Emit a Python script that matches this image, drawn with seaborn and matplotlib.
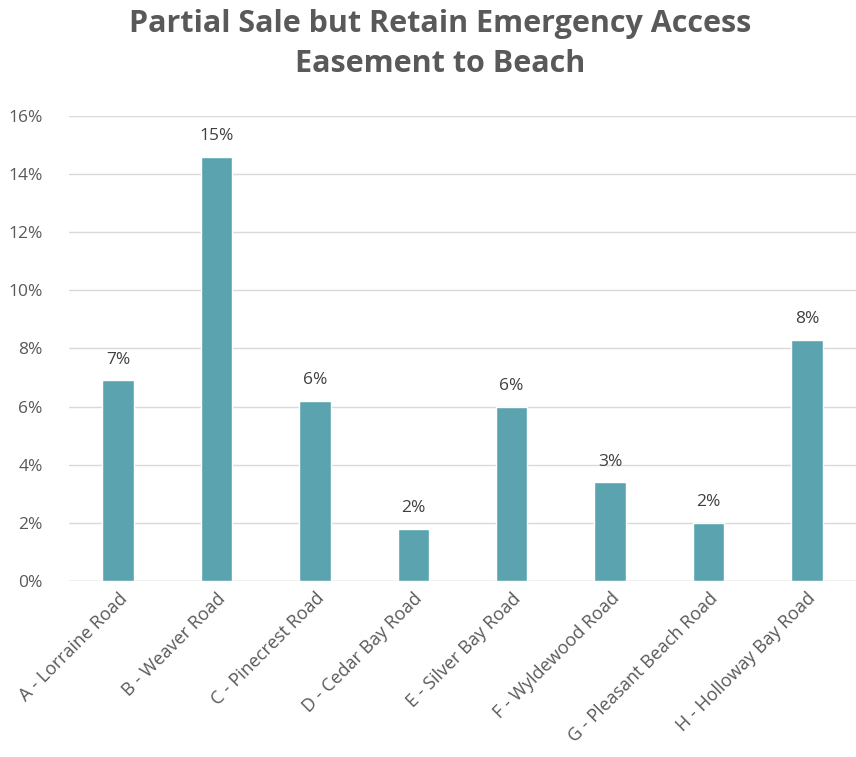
import matplotlib
matplotlib.use("Agg")
import matplotlib.pyplot as plt
import seaborn as sns
import pandas as pd
from matplotlib.ticker import FuncFormatter

categories = ["A - Lorraine Road", "B - Weaver Road", "C - Pinecrest Road", "D - Cedar Bay Road",
              "E - Silver Bay Road", "F - Wyldewood Road", "G - Pleasant Beach Road", "H - Holloway Bay Road"]
values = [6.9, 14.6, 6.2, 1.8, 6.0, 3.4, 2.0, 8.3]
labels = ["7%", "15%", "6%", "2%", "6%", "3%", "2%", "8%"]
yticks = [0, 2, 4, 6, 8, 10, 12, 14, 16]

sns.set_theme(style="white")
plt.rcParams["font.family"] = ["Open Sans", "DejaVu Sans"]

df = pd.DataFrame({"cat": categories, "val": values})
fig = plt.figure(figsize=(8.56, 7.57), dpi=100)
ax = fig.add_axes([69/856, 1 - 581/757, 1 - 69/856, (581 - 116)/757])
sns.barplot(data=df, x="cat", y="val", color="#5BA3AF", width=0.32, saturation=1, ax=ax, zorder=3)

ax.set_ylim(0, 16)
ax.set_xlim(-0.5, 7.5)
ax.set_yticks(yticks)
ax.yaxis.set_major_formatter(FuncFormatter(lambda v, p: f"{int(v)}%"))
ax.grid(axis="y", color="#D9D9D9", linewidth=1, zorder=0)
for s in ax.spines.values():
    s.set_visible(False)
ax.axhline(0, color="#D9D9D9", linewidth=1, zorder=2)
ax.set_xlabel("")
ax.set_ylabel("")
ax.tick_params(axis="y", labelsize=12.5, labelcolor="#595959", length=0, pad=19)
ax.tick_params(axis="x", labelsize=13, labelcolor="#595959", length=0, pad=6)
plt.setp(ax.get_xticklabels(), rotation=45, ha="right", rotation_mode="anchor")

for p, lab in zip(ax.patches, labels):
    ax.annotate(lab, (p.get_x() + p.get_width() / 2, p.get_height()), xytext=(0, 9),
                textcoords="offset points", ha="center", va="bottom", fontsize=12.5, color="#404040")

fig.text(440/856, 1 - 44/757, "Partial Sale but Retain Emergency Access\nEasement to Beach",
         ha="center", va="center", fontsize=22, fontweight="bold", color="#595959", linespacing=1.45)

fig.savefig("out.png", dpi=100, facecolor="white")
